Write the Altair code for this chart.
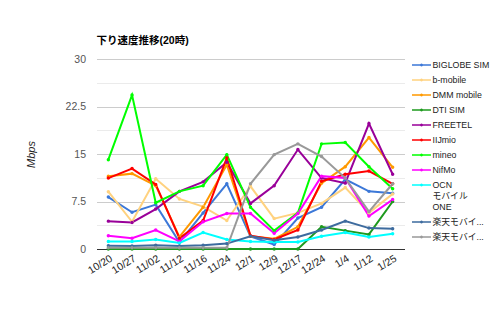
import altair as alt
import pandas as pd

dates = ["10/20", "10/27", "11/02", "11/12", "11/16", "11/24", "12/1",
         "12/9", "12/17", "12/24", "1/4", "1/12", "1/25"]

series_names = ["BIGLOBE SIM", "b-mobile", "DMM mobile", "DTI SIM", "FREETEL",
                "IIJmio", "mineo", "NifMo", "OCN モバイル ONE",
                "楽天モバイル(旧)", "楽天モバイル(新)"]
colors = ["#3c78d8", "#ffd27f", "#ff9900", "#1e9a1e", "#990099",
          "#ff0000", "#00ff00", "#ff00ff", "#00ffff", "#3d6b9e", "#999999"]

biglobe = [8.2, 5.8, 7.0, 1.05, 5.7, 10.3, 2.0, 0.7, 4.9, 6.6, 11.0, 9.1, 8.8]
bmobile = [9.05, 4.3, 11.1, 7.9, 6.7, 4.5, 9.9, 4.8, 5.7, 7.2, 9.7, 5.7, 8.7]
dmm = [11.5, 11.9, 10.0, 1.9, 6.6, 13.3, 2.0, 1.6, 3.5, 10.4, 13.0, 17.6, 12.9]
dti = [0, 0, 0, 0, 0, 0, 0, 0, 0, 3.5, 2.9, 2.3, 7.5]
freetel = [4.4, 4.2, 6.3, 9.1, 10.6, 13.7, 7.2, 10.0, 15.7, 11.2, 10.4, 19.8, 11.8]
iijmio = [11.2, 12.7, 10.2, 1.7, 4.5, 14.4, 2.1, 1.5, 3.0, 10.7, 11.8, 12.3, 10.3]
mineo = [14.1, 24.3, 7.3, 9.1, 10.0, 14.9, 6.6, 2.9, 5.7, 16.6, 16.8, 13.0, 9.5]
nifmo = [2.1, 1.7, 3.0, 1.2, 4.3, 5.6, 5.6, 2.5, 5.6, 11.5, 11.2, 5.2, 7.8]
ocn = [1.2, 1.2, 1.5, 0.95, 2.6, 1.5, 1.2, 1.1, 1.1, 2.0, 2.6, 1.9, 2.4]
rakuten1 = [0.5, 0.47, 0.6, 0.47, 0.6, 0.85, 2.0, 1.4, 1.9, 3.0, 4.4, 3.3, 3.2]
rakuten2 = [0.2, 0.2, 0.2, 0.2, 0.2, 0.2, 10.3, 14.9, 16.6, 14.6, 11.2, 5.9, 10.3]

all_values = [biglobe, bmobile, dmm, dti, freetel, iijmio, mineo, nifmo, ocn,
              rakuten1, rakuten2]

y_ticks = [0, 3.75, 7.5, 11.25, 15, 18.75, 22.5, 26.25, 30]

rows = []
for name, vals in zip(series_names, all_values):
    for d, v in zip(dates, vals):
        rows.append({"date": d, "series": name, "mbps": v})
df = pd.DataFrame(rows)

font = "Liberation Sans, Arial, Noto Sans CJK JP"

legend_label_expr = (
    "datum.label == 'OCN モバイル ONE' ? ['OCN', 'モバイル', 'ONE'] : "
    "(indexof(datum.label, '楽天') == 0 ? substring(datum.label, 0, 5) + '...' : datum.label)"
)

sym_path = ("M-1.9,0H1.9M-0.15,0A0.15,0.15,0,1,0,0.15,0A0.15,0.15,0,1,0,-0.15,0")

chart = alt.Chart(df).mark_line(
    strokeWidth=2,
    point=alt.OverlayMarkDef(size=12, filled=True),
).encode(
    x=alt.X("date:N", sort=dates,
            scale=alt.Scale(type="point", padding=0.5),
            axis=alt.Axis(title=None, labelAngle=-32, labelFontSize=10.5,
                          labelColor="#222222", ticks=False, domain=True,
                          domainColor="#333333", labelPadding=4, grid=False,
                          labelFont=font)),
    y=alt.Y("mbps:Q",
            scale=alt.Scale(domain=[0, 30], nice=False),
            axis=alt.Axis(title="Mbps", values=y_ticks,
                          labelExpr="datum.value % 7.5 == 0 ? format(datum.value, '~g') : ''",
                          labelOverlap=False,
                          gridColor={"condition": {"test": "datum.value % 7.5 == 0",
                                                   "value": "#cccccc"},
                                     "value": "#ebebeb"},
                          domain=False, ticks=False, labelPadding=11,
                          labelFontSize=10.5, labelColor="#555555", labelFont=font,
                          titleFontStyle="italic", titleFontWeight="normal",
                          titleFontSize=11, titleColor="#222222", titleFont=font,
                          titlePadding=29)),
    color=alt.Color("series:N",
                    scale=alt.Scale(domain=series_names, range=colors),
                    legend=alt.Legend(title=None, orient="none",
                                      legendX=319, legendY=0,
                                      direction="vertical",
                                      labelFontSize=8.8, labelColor="#222222",
                                      labelFont=font, labelExpr=legend_label_expr,
                                      symbolType=sym_path, symbolSize=100,
                                      symbolStrokeWidth=1.6, rowPadding=4,
                                      labelOffset=5, labelLimit=200)),
).properties(
    width=308,
    height=190,
    title=alt.TitleParams("下り速度推移(20時)", anchor="start", fontSize=10.5,
                          fontWeight="bold", font=font, color="#000000",
                          offset=-2, baseline="bottom", frame="group"),
    autosize=alt.AutoSizeParams(type="none"),
    padding={"left": 88.5, "top": 51, "right": 87, "bottom": 52},
).configure_view(stroke=None)

chart.save("out.html", embed_options={"renderer": "svg", "actions": False})
